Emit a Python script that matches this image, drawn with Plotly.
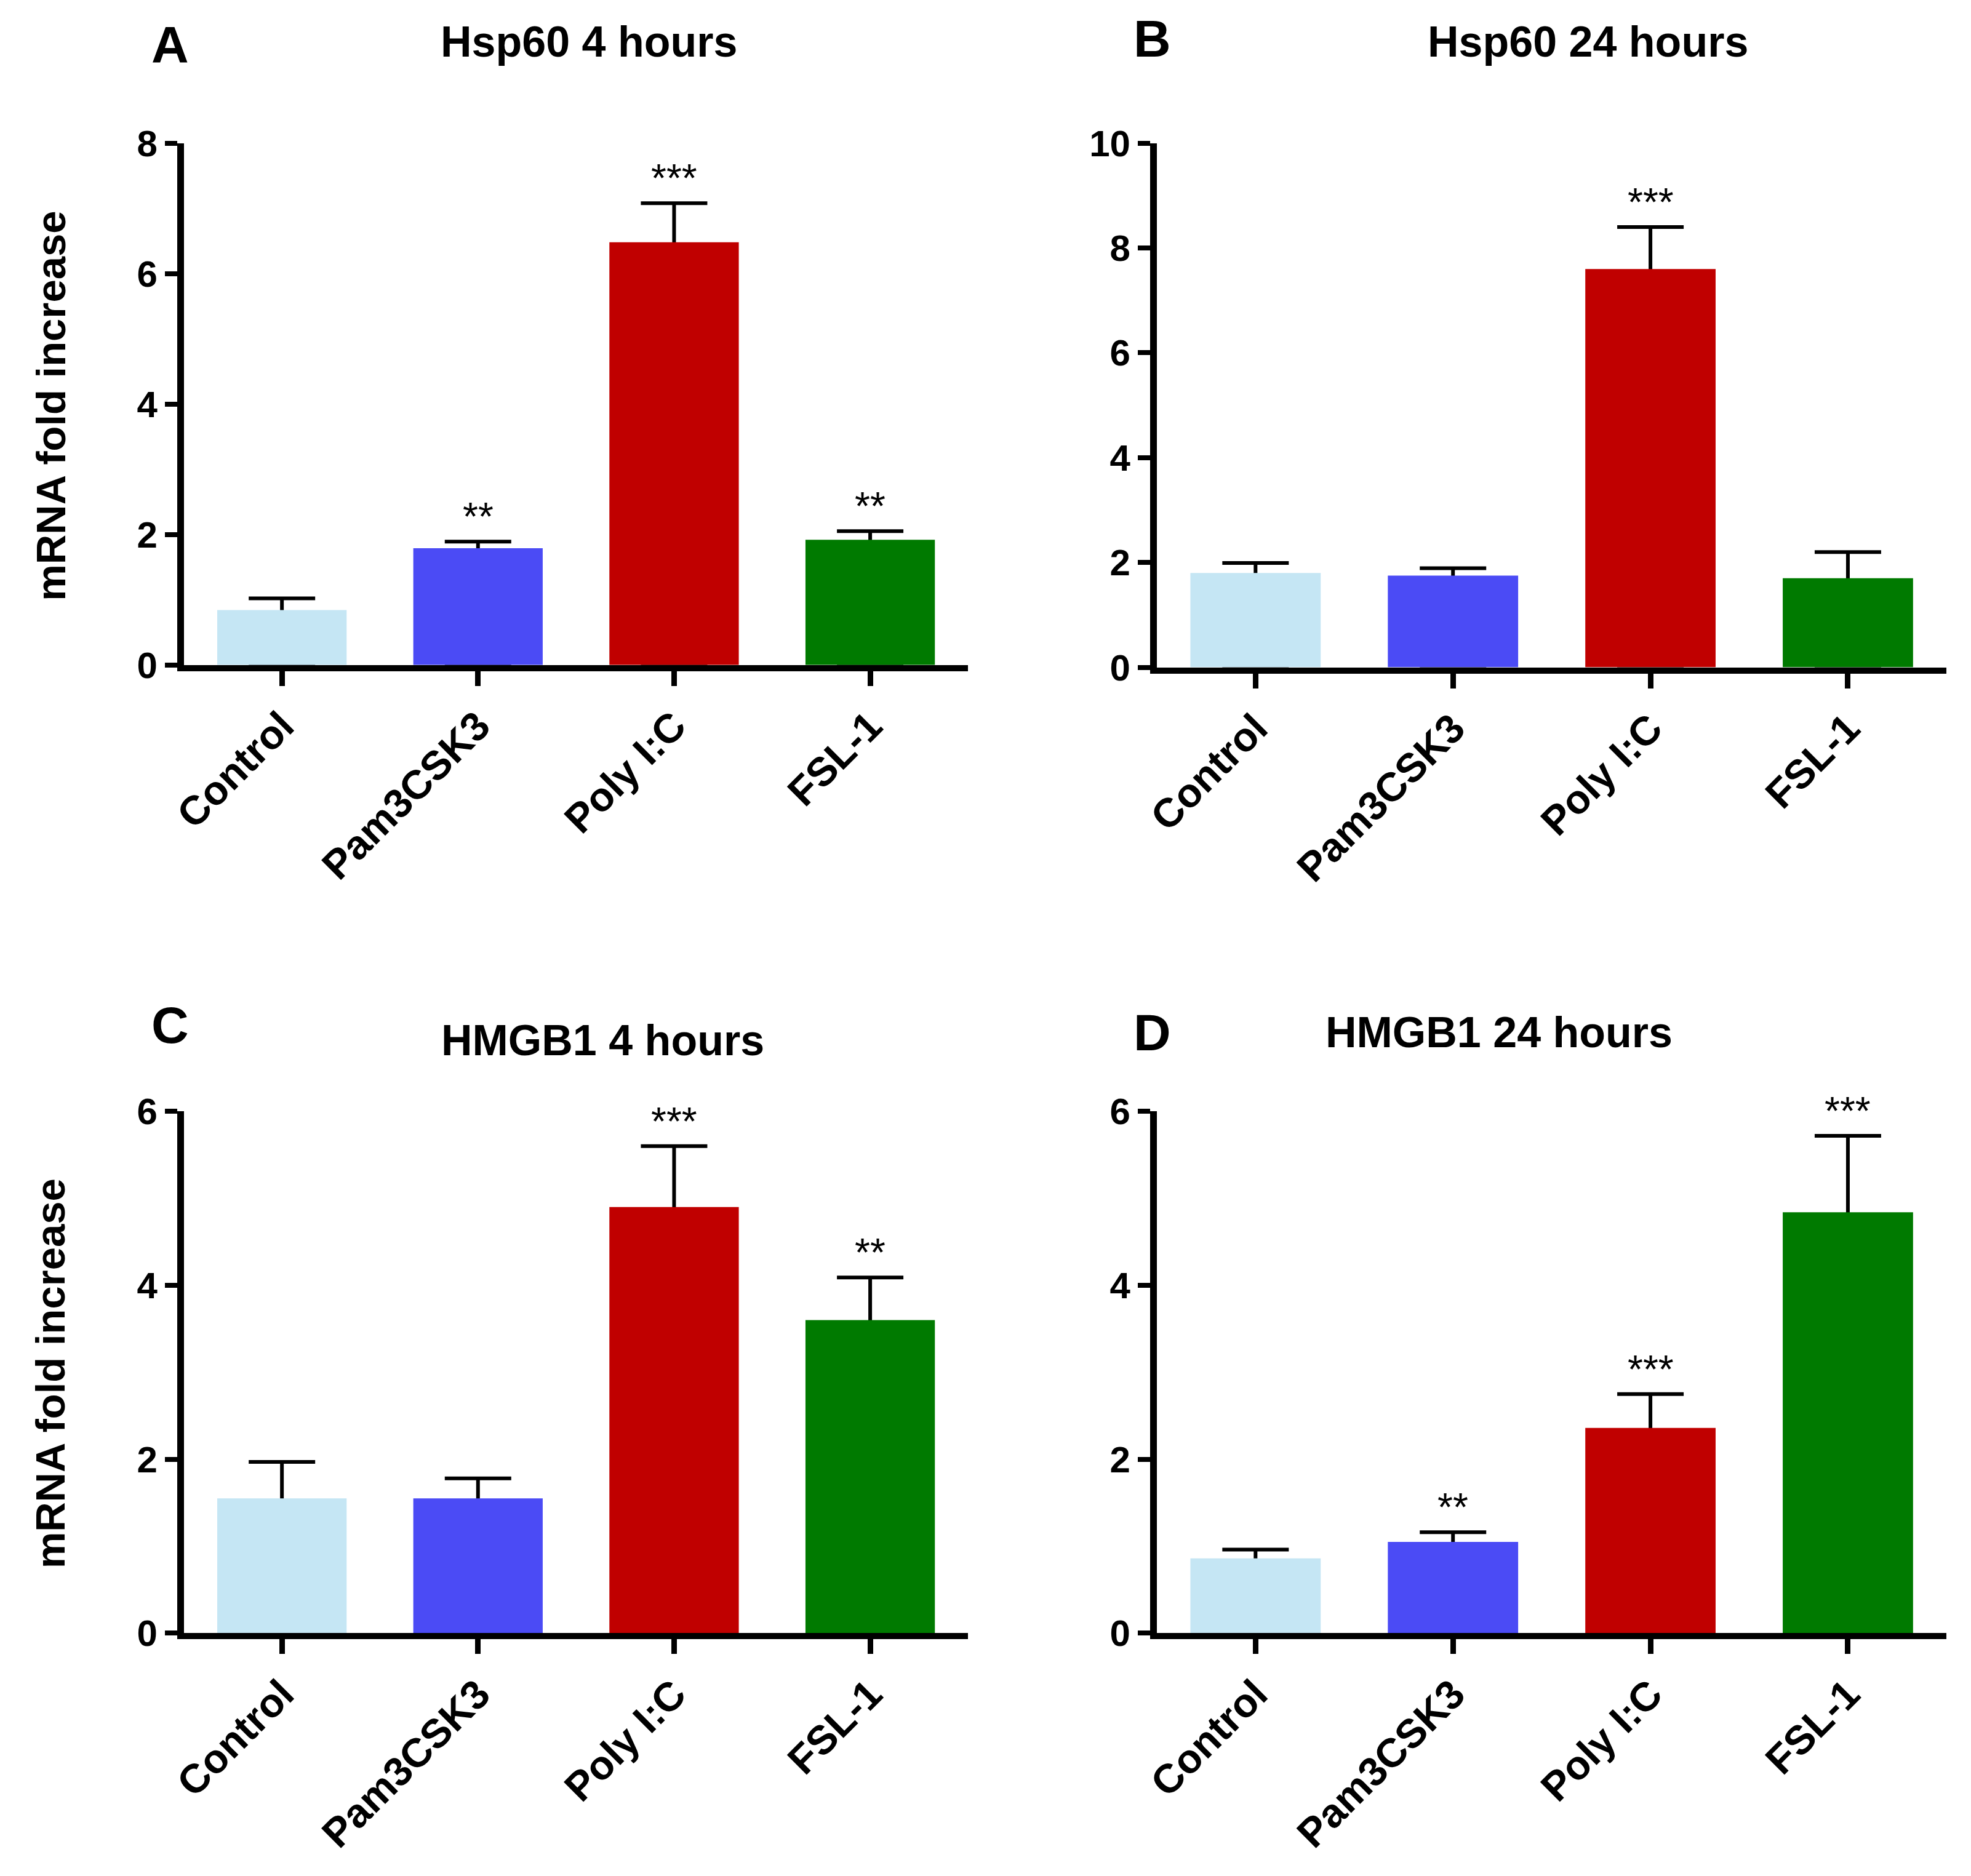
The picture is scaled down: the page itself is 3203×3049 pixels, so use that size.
import plotly.graph_objects as go

# ---- data ----
categories = ["Control", "Pam3CSK3", "Poly I:C", "FSL-1"]
bar_colors = ["#c5e6f4", "#4b4bf5", "#c00000", "#007a00"]

hsp60_4h = [0.84, 1.79, 6.48, 1.92]
hsp60_4h_top = [1.02, 1.89, 7.08, 2.05]
hsp60_4h_sig = ["", "**", "***", "**"]

hsp60_24h = [1.80, 1.75, 7.60, 1.70]
hsp60_24h_top = [1.99, 1.89, 8.40, 2.20]
hsp60_24h_sig = ["", "", "***", ""]

hmgb1_4h = [1.55, 1.55, 4.90, 3.60]
hmgb1_4h_top = [1.97, 1.78, 5.60, 4.09]
hmgb1_4h_sig = ["", "", "***", "**"]

hmgb1_24h = [0.86, 1.05, 2.36, 4.84]
hmgb1_24h_top = [0.96, 1.16, 2.75, 5.72]
hmgb1_24h_sig = ["", "**", "***", "***"]

panel_titles = ["Hsp60 4 hours", "Hsp60 24 hours", "HMGB1 4 hours", "HMGB1 24 hours"]
panel_letters = ["A", "B", "C", "D"]
y_max = [8, 10, 6, 6]
y_title = "mRNA fold increase"

# ---- layout geometry (pixel positions on the page) ----
W, H = 3203, 3049
FONT = "Liberation Sans, Arial, sans-serif"

def fx(px):
    return px / W

def fy(px):
    return 1 - px / H

panels = [
    dict(vals=hsp60_4h, top=hsp60_4h_top, sig=hsp60_4h_sig,
         xd=[fx(267), fx(1552)], yd=[fy(1063), fy(196)],
         title_xy=(fx(931), fy(28)), letter_xy=(fx(244), fy(33))),
    dict(vals=hsp60_24h, top=hsp60_24h_top, sig=hsp60_24h_sig,
         xd=[fx(1861), fx(3155)], yd=[fy(1067), fy(196)],
         title_xy=(fx(2567), fy(28)), letter_xy=(fx(1854), fy(23))),
    dict(vals=hmgb1_4h, top=hmgb1_4h_top, sig=hmgb1_4h_sig,
         xd=[fx(267), fx(1552)], yd=[fy(2672), fy(1805)],
         title_xy=(fx(953), fy(1687)), letter_xy=(fx(244), fy(1661))),
    dict(vals=hmgb1_24h, top=hmgb1_24h_top, sig=hmgb1_24h_sig,
         xd=[fx(1861), fx(3155)], yd=[fy(2672), fy(1805)],
         title_xy=(fx(2422), fy(1674)), letter_xy=(fx(1854), fy(1674))),
]

fig = go.Figure()
annotations = []
layout_axes = {}

for i, p in enumerate(panels):
    n = "" if i == 0 else str(i + 1)
    xref, yref = "x" + n, "y" + n
    # carrier trace for the error bars (drawn beneath the real bars)
    fig.add_trace(go.Bar(
        x=categories, y=p["vals"], xaxis=xref, yaxis=yref,
        marker=dict(color="rgba(0,0,0,0)", line=dict(width=0)),
        width=0.66,
        error_y=dict(type="data", symmetric=False,
                     array=[t - v for t, v in zip(p["top"], p["vals"])],
                     arrayminus=p["vals"],
                     color="black", thickness=6, width=54),
        hoverinfo="skip", showlegend=False,
    ))
    fig.add_trace(go.Bar(
        x=categories, y=p["vals"], xaxis=xref, yaxis=yref,
        marker=dict(color=bar_colors, line=dict(width=0)),
        width=0.66, showlegend=False,
    ))
    layout_axes["xaxis" + n] = dict(
        domain=p["xd"], anchor=yref, type="category", range=[-0.5, 3.5],
        showline=True, linewidth=10, linecolor="black", mirror=False,
        ticks="outside", ticklen=24, tickwidth=9, tickcolor="black",
        tickangle=-45, showgrid=False, zeroline=False,
        tickfont=dict(family=FONT, size=66, color="black", weight="bold"),
    )
    layout_axes["yaxis" + n] = dict(
        domain=p["yd"], anchor=xref, range=[0, y_max[i]], dtick=2,
        showline=True, linewidth=11, linecolor="black",
        ticks="outside", ticklen=20, tickwidth=8, tickcolor="black",
        showgrid=False, zeroline=False,
        tickfont=dict(family=FONT, size=60, color="black", weight="bold"),
    )
    for c, s, t in zip(categories, p["sig"], p["top"]):
        if s:
            annotations.append(dict(
                x=c, y=t, xref=xref, yref=yref, text=s, showarrow=False,
                yanchor="bottom", yshift=2,
                font=dict(family=FONT, size=64, color="black"),
            ))
    annotations.append(dict(
        x=p["title_xy"][0], y=p["title_xy"][1], xref="paper", yref="paper",
        text=panel_titles[i], showarrow=False, xanchor="center", yanchor="middle",
        font=dict(family=FONT, size=70, color="black", weight="bold"),
    ))
    annotations.append(dict(
        x=p["letter_xy"][0], y=p["letter_xy"][1], xref="paper", yref="paper",
        text=panel_letters[i], showarrow=False, xanchor="center", yanchor="middle",
        font=dict(family=FONT, size=84, color="black", weight="bold"),
    ))

for ycen in (633, 2241):
    annotations.append(dict(
        x=fx(48), y=fy(ycen), xref="paper", yref="paper", text=y_title,
        showarrow=False, textangle=-90, xanchor="center", yanchor="middle",
        font=dict(family=FONT, size=67, color="black", weight="bold"),
    ))

fig.update_layout(
    width=W, height=H, margin=dict(l=0, r=0, t=0, b=0),
    paper_bgcolor="white", plot_bgcolor="white",
    barmode="overlay", showlegend=False,
    annotations=annotations, **layout_axes,
)

fig.write_html("out.html")
